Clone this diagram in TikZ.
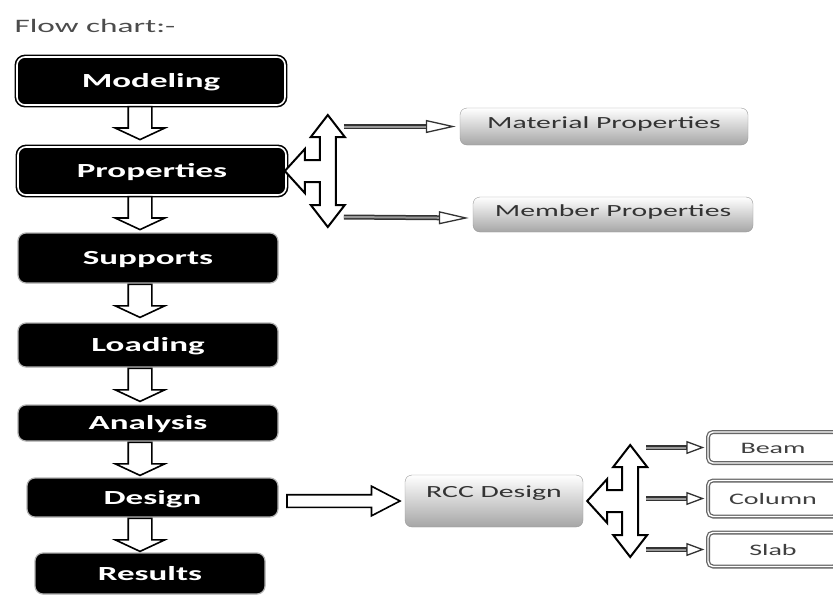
\documentclass[tikz,border=0pt]{standalone}
\usepackage{fontspec}
\setmainfont[FakeStretch=1.75]{Carlito}
\usetikzlibrary{shapes.arrows,arrows.meta,calc}

\tikzset{
  blackbox/.style={rounded corners=8pt, fill=black, draw=black!30, line width=1.2pt, text=white, inner sep=0pt,
    font=\bfseries\fontsize{20}{24}\selectfont, text height=13pt, text depth=0pt},
  dblbox/.style={blackbox, draw=black, line width=1.6pt, double=white, double distance=1.6pt},
  greybox/.style={draw=black!40, rounded corners=7pt, top color=white, bottom color=black!35,
    text=black!80, inner sep=0pt, font=\fontsize{17}{20}\selectfont, text height=12pt, text depth=8pt},
  partbox/.style={draw=black!60, line width=1.3pt, double=white, double distance=1.4pt,
    rounded corners=5pt, fill=white, text=black!75, inner sep=0pt, minimum width=130,
    font=\fontsize{16}{19}\selectfont, text height=11pt, text depth=0pt},
  downarrow/.style={single arrow, draw=black, line width=1.6pt, fill=white,
    inner xsep=0pt, inner ysep=11pt, minimum height=33, single arrow head extend=13pt,
    single arrow tip angle=130, sloped, allow upside down, pos=0, anchor=tail},
  rightarrow/.style={downarrow, minimum height=113, inner ysep=5.5pt,
    single arrow head extend=8.5pt, single arrow tip angle=55},
  thin/.style={line width=5pt, black!80,
    -{Triangle[open, length=#1, width=13pt, line width=1.3pt]},
    postaction={draw, -, line width=2pt, black!40, shorten >=#1}},
  thin/.default=30pt,
  fork/.pic={
    \draw[line width=2pt, fill=white, line join=miter]
      (43,-56) -- (60,-34) -- (51,-34) -- (51,34) -- (60,34) -- (43,56)
      -- (26,34) -- (35,34) -- (35,11) -- (20,11) -- (20,22) -- (0,0)
      -- (20,-22) -- (20,-11) -- (35,-11) -- (35,-34) -- (26,-34) -- cycle;
    \coordinate (-out) at (59,0);
  }
}

\begin{document}
\begin{tikzpicture}[x=1pt,y=-1pt]
  \useasboundingbox[fill=white] (0,0) rectangle (833,595);

  \node[anchor=base west, text=black!70, font=\fontsize{19}{23}\selectfont] (title) at (11,32) {Flow chart:-};

  % main column
  \node[dblbox, minimum width=268, minimum height=48] (model) at (151,81) {Modeling};
  \node[dblbox, minimum width=268, minimum height=48] (prop) at (152,171) {Properties};
  \node[blackbox, minimum width=260, minimum height=50] (supp) at (148,258) {Supports};
  \node[blackbox, minimum width=260, minimum height=44] (load) at (148,345) {Loading};
  \node[blackbox, minimum width=260, minimum height=36] (anal) at (148,423) {Analysis};
  \node[blackbox, minimum width=251, minimum height=39] (design) at (152.5,497.5) {Design};
  \node[blackbox, minimum width=230, minimum height=41] (result) at (150,573.5) {Results};

  \coordinate (axis) at (140,0);
  \path (model.south -| axis) -- node[downarrow]{} (prop.north -| axis);
  \path (prop.south -| axis) -- node[downarrow]{} (supp.north -| axis);
  \path (supp.south -| axis) -- node[downarrow]{} (load.north -| axis);
  \path (load.south -| axis) -- node[downarrow]{} (anal.north -| axis);
  \path (anal.south -| axis) -- node[downarrow]{} (design.north -| axis);
  \path (design.south -| axis) -- node[downarrow]{} (result.north -| axis);

  % properties
  \node[greybox, minimum width=288, minimum height=37] (mat) at (604,126.5) {Material Properties};
  \node[greybox, minimum width=280, minimum height=35] (mem) at (613,214.5) {Member Properties};
  \pic (pf) at ([xshift=-2pt]prop.east) {fork};
  \draw[thin] (pf-out |- mat.west) -- ([xshift=-4pt]mat.west);
  \draw[thin] ($(pf-out)+(0,46)$) -- ([xshift=-4pt]mem.west |- 0,218);

  % design
  \node[greybox, minimum width=178, minimum height=52, text depth=19pt] (rcc) at (494,501) {RCC Design};
  \path (design.east |- rcc.west) -- node[rightarrow, pos=0.06]{} (rcc.west);
  \node[partbox, minimum height=31] (beam) at (773,447.5) {Beam};
  \node[partbox, minimum height=36] (col) at (773,498.5) {Column};
  \node[partbox, minimum height=34] (slab) at (773,549.5) {Slab};
  \pic (rf) at ([xshift=4pt]rcc.east) {fork};
  \draw[thin=18pt] (rf-out |- beam.west) -- ([xshift=-3pt]beam.west);
  \draw[thin=18pt] (rf-out |- col.west) -- ([xshift=-3pt]col.west);
  \draw[thin=18pt] (rf-out |- slab.west) -- ([xshift=-3pt]slab.west);
\end{tikzpicture}
\end{document}
